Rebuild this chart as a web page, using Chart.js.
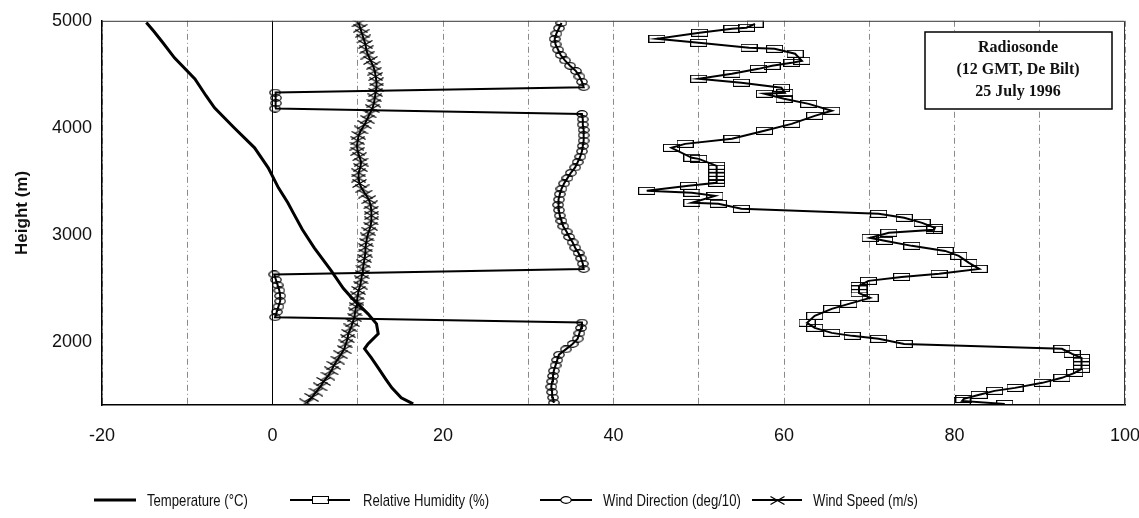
<!DOCTYPE html>
<html lang="en">
<head>
<meta charset="UTF-8">
<title>Radiosonde De Bilt</title>
<script src="https://cdn.jsdelivr.net/npm/chart.js@4.4.1/dist/chart.umd.min.js"></script>
<style>
    html, body { margin: 0; padding: 0; background: #fff; }
    #wrap { width: 1139px; height: 518px; }
</style>
</head>
<body>
<div id="wrap"><canvas id="sonde" width="1139" height="518"></canvas></div>
<script>
// temperature profile (deg C) vs height (m)
var tempHeight = [4984, 4900, 4800, 4654, 4456, 4300, 4187, 4000, 3813, 3626, 3439, 3300, 3196, 3050, 2879, 2664, 2500, 2411, 2262, 2168, 2075, 1981, 1935, 1850, 1757, 1650, 1570, 1477, 1420];
var tempValue  = [-14.8, -13.9, -12.9, -11.5, -9.1, -7.8, -6.8, -4.5, -2.1, -0.5, 0.7, 1.8, 2.5, 3.5, 4.9, 6.9, 8.3, 9.3, 11.2, 12.2, 12.4, 11.2, 10.8, 11.6, 12.4, 13.3, 14.0, 15.1, 16.5];

// relative humidity (%)
var rhHeight = [4972, 4935, 4925, 4888, 4832, 4794, 4748, 4738, 4692, 4626, 4607, 4579, 4551, 4505, 4458, 4421, 4374, 4327, 4318, 4271, 4224, 4159, 4112, 4037, 3972, 3897, 3850, 3813, 3720, 3710, 3645, 3617, 3580, 3545, 3515, 3486, 3458, 3411, 3393, 3364, 3299, 3290, 3243, 3196, 3159, 3112, 3065, 3047, 3019, 2972, 2944, 2897, 2850, 2804, 2738, 2682, 2636, 2607, 2570, 2523, 2490, 2455, 2411, 2355, 2308, 2243, 2178, 2131, 2084, 2056, 2028, 1981, 1935, 1888, 1850, 1815, 1780, 1748, 1710, 1664, 1617, 1570, 1542, 1505, 1467, 1448, 1420];
var rhValue  = [56.6, 55.6, 53.9, 50.1, 45.1, 50.0, 55.9, 58.9, 61.3, 62.1, 60.9, 58.6, 57.0, 53.9, 50.0, 55.0, 59.7, 60.1, 57.7, 60.0, 62.9, 65.6, 63.6, 60.9, 57.7, 53.9, 48.4, 46.8, 49.2, 50.0, 52.1, 52.1, 52.1, 52.1, 52.1, 52.1, 48.8, 43.9, 49.2, 51.9, 49.2, 52.3, 55.0, 71.1, 74.1, 76.2, 77.7, 77.6, 72.3, 70.1, 71.8, 75.0, 78.9, 80.5, 81.7, 82.9, 78.2, 73.8, 69.9, 68.8, 68.8, 68.8, 70.1, 67.6, 65.6, 63.6, 62.7, 63.6, 65.6, 68.0, 71.1, 74.1, 92.6, 93.8, 94.9, 94.9, 94.9, 94.9, 94.1, 92.6, 90.3, 87.1, 84.7, 82.9, 81.1, 80.9, 85.9];

// wind profile
var windHeight = [1430, 1480, 1530, 1580, 1630, 1680, 1730, 1780, 1830, 1880,
                  1930, 1980, 2030, 2080, 2130, 2180, 2230, 2280, 2330, 2380,
                  2430, 2480, 2530, 2580, 2630, 2680, 2730, 2780, 2830, 2880,
                  2930, 2980, 3030, 3080, 3130, 3180, 3230, 3280, 3330, 3380,
                  3430, 3480, 3530, 3580, 3630, 3680, 3730, 3780, 3830, 3880,
                  3930, 3980, 4030, 4080, 4130, 4180, 4230, 4280, 4330, 4380,
                  4430, 4480, 4530, 4580, 4630, 4680, 4730, 4780, 4830, 4880,
                  4930, 4980];
var windDir = [33.0, 32.9, 32.8, 32.7, 32.8, 32.9, 33.0, 33.2, 33.4, 33.6,
               34.4, 35.2, 35.8, 36.0, 36.2, 36.3, 0.3, 0.5, 0.7, 0.9,
               0.9, 0.8, 0.6, 0.4, 0.2, 36.5, 36.4, 36.2, 35.9, 35.5,
               35.2, 34.8, 34.5, 34.1, 33.9, 33.7, 33.6, 33.5, 33.6, 33.7,
               33.9, 34.2, 34.6, 35.0, 35.5, 35.8, 36.1, 36.3, 36.4, 36.5,
               36.5, 36.5, 36.4, 36.4, 36.3, 0.3, 0.4, 0.4, 0.3, 36.5,
               36.3, 36.0, 35.6, 34.9, 34.3, 33.8, 33.5, 33.2, 33.1, 33.3,
               33.6, 33.9];
var windSpeed = [4.0, 4.6, 5.1, 5.6, 6.0, 6.5, 6.9, 7.2, 7.6, 8.0,
                 8.4, 8.6, 8.8, 8.9, 9.2, 9.4, 9.6, 9.7, 9.8, 9.9,
                 10.0, 10.1, 10.3, 10.4, 10.5, 10.6, 10.7, 10.8, 10.9, 10.9,
                 11.0, 11.1, 11.3, 11.5, 11.6, 11.6, 11.6, 11.5, 11.3, 10.9,
                 10.5, 10.2, 10.1, 10.1, 10.3, 10.4, 10.2, 10.0, 9.9, 10.0,
                 10.1, 10.4, 10.8, 11.1, 11.4, 11.7, 11.9, 12.0, 12.1, 12.2,
                 12.2, 12.1, 12.0, 11.8, 11.5, 11.2, 11.0, 10.9, 10.7, 10.5,
                 10.3, 10.1];

// axes
var xGridValues = [-20, -10, 0, 10, 20, 30, 40, 50, 60, 70, 80, 90, 100];
var yTickValues = [2000, 3000, 4000, 5000];
var seriesNames = ['Temperature (\u00B0C)', 'Relative Humidity (%)', 'Wind Direction (deg/10)', 'Wind Speed (m/s)'];
var boxLines = ['Radiosonde', '(12 GMT, De Bilt)', '25 July 1996'];

function pairs(xs, ys) {
    return xs.map(function (v, i) { return { x: v, y: ys[i] }; });
}

// marker glyphs
function makeMarker(w, h, draw) {
    var c = document.createElement('canvas');
    c.width = w; c.height = h;
    var g = c.getContext('2d');
    g.strokeStyle = '#000';
    g.lineWidth = 1;
    draw(g);
    return c;
}
var rectMarker = makeMarker(17, 8, function (g) { g.strokeRect(0.5, 0.5, 16, 7); });
var ovalMarker = makeMarker(12, 8, function (g) {
    g.lineWidth = 1.2;
    g.beginPath(); g.ellipse(6, 4, 5.2, 3.3, 0, 0, Math.PI * 2); g.stroke();
});
var crossMarker = makeMarker(15, 9, function (g) {
    g.lineWidth = 1.2;
    g.beginPath(); g.moveTo(0.5, 0.5); g.lineTo(14.5, 8.5); g.moveTo(0.5, 8.5); g.lineTo(14.5, 0.5); g.stroke();
});

var extras = {
    id: 'extras',
    afterDraw: function (chart) {
        var ctx = chart.ctx, a = chart.chartArea;
        ctx.save();
        // frame
        ctx.strokeStyle = '#333';
        ctx.lineWidth = 1;
        ctx.beginPath();
        ctx.moveTo(a.left, a.top + 0.5); ctx.lineTo(a.right - 0.5, a.top + 0.5); ctx.lineTo(a.right - 0.5, a.bottom);
        ctx.stroke();

        // annotation box
        ctx.fillStyle = '#fff';
        ctx.fillRect(925, 32, 187, 77);
        ctx.strokeStyle = '#000';
        ctx.lineWidth = 1.5;
        ctx.strokeRect(925, 32, 187, 77);
        ctx.fillStyle = '#111';
        ctx.font = 'bold 16px "Liberation Serif", "Times New Roman", serif';
        ctx.textAlign = 'center';
        ctx.textBaseline = 'middle';
        boxLines.forEach(function (t, i) { ctx.fillText(t, 1018, 48 + i * 22); });

        // legend
        var y = 500;
        var items = [
            { x0: 94, x1: 136, tx: 147, mark: null, w: 3 },
            { x0: 290, x1: 350, tx: 363, mark: rectMarker, w: 2 },
            { x0: 540, x1: 592, tx: 603, mark: ovalMarker, w: 2 },
            { x0: 752, x1: 802, tx: 813, mark: crossMarker, w: 2 }
        ];
        ctx.font = '16px "Liberation Sans", Arial, sans-serif';
        ctx.textAlign = 'left';
        items.forEach(function (it, i) {
            ctx.strokeStyle = '#000';
            ctx.lineWidth = it.w;
            ctx.beginPath(); ctx.moveTo(it.x0, y); ctx.lineTo(it.x1, y); ctx.stroke();
            if (it.mark) {
                var cx = (it.x0 + it.x1) / 2;
                ctx.fillStyle = '#fff';
                if (it.mark !== crossMarker) ctx.fillRect(cx - it.mark.width / 2 + 1, y - it.mark.height / 2 + 1, it.mark.width - 2, it.mark.height - 2);
                ctx.drawImage(it.mark, Math.round(cx - it.mark.width / 2), Math.round(y - it.mark.height / 2));
            }
            // narrow lettering like the original legend
            ctx.save();
            ctx.translate(it.tx, y + 1);
            ctx.scale(0.82, 1.05);
            ctx.fillStyle = '#111';
            ctx.fillText(seriesNames[i], 0, 0);
            ctx.restore();
        });
        ctx.restore();
    }
};

new Chart(document.getElementById('sonde'), {
    type: 'scatter',
    data: {
        datasets: [
            {
                label: seriesNames[0],
                data: pairs(tempValue, tempHeight),
                showLine: true, borderColor: '#000', borderWidth: 3,
                pointRadius: 0, tension: 0
            },
            {
                label: seriesNames[1],
                data: pairs(rhValue, rhHeight),
                showLine: true, borderColor: '#000', borderWidth: 2,
                pointStyle: rectMarker, pointRadius: 4, tension: 0
            },
            {
                label: seriesNames[2],
                data: pairs(windDir, windHeight),
                showLine: true, borderColor: '#000', borderWidth: 2,
                pointStyle: ovalMarker, pointRadius: 4, tension: 0
            },
            {
                label: seriesNames[3],
                data: pairs(windSpeed, windHeight),
                showLine: true, borderColor: '#000', borderWidth: 2,
                pointStyle: crossMarker, pointRadius: 4, tension: 0
            }
        ]
    },
    options: {
        responsive: false,
        animation: false,
        layout: { padding: { top: 20, right: 14, bottom: 63, left: 0 } },
        plugins: { legend: { display: false }, tooltip: { enabled: false } },
        scales: {
            x: {
                type: 'linear', min: -20, max: 100,
                afterBuildTicks: function (s) { s.ticks = xGridValues.map(function (v) { return { value: v }; }); },
                afterFit: function (s) { s.height = 50; s.paddingLeft = 0; s.paddingRight = 0; },
                grid: {
                    drawTicks: false,
                    color: function (c) { return c.tick && c.tick.value === 0 ? '#000' : '#8a8a8a'; },
                    lineWidth: 1
                },
                border: {
                    display: true, color: '#000', width: 1.5,
                    dash: function (c) { return c.tick && c.tick.value === 0 ? [] : [6, 3, 1, 3]; }
                },
                ticks: {
                    autoSkip: false, maxRotation: 0, padding: 20, color: '#111',
                    font: { family: '"Liberation Sans", Arial, sans-serif', size: 18 },
                    callback: function (v) { return v % 20 === 0 ? String(v) : ''; }
                }
            },
            y: {
                type: 'linear', min: 1410, max: 5000,
                afterBuildTicks: function (s) { s.ticks = yTickValues.map(function (v) { return { value: v }; }); },
                afterFit: function (s) { s.width = 102; },
                grid: { display: false, drawTicks: false },
                border: { display: true, color: '#000', width: 1.5 },
                ticks: {
                    padding: 10, color: '#111',
                    font: { family: '"Liberation Sans", Arial, sans-serif', size: 18 },
                    callback: function (v) { return String(v); }
                },
                title: {
                    display: true, text: 'Height (m)', color: '#111',
                    padding: { top: 12, bottom: 0 },
                    font: { family: '"Liberation Sans", Arial, sans-serif', size: 17, weight: 'bold' }
                }
            }
        }
    },
    plugins: [extras]
});
</script>
</body>
</html>
